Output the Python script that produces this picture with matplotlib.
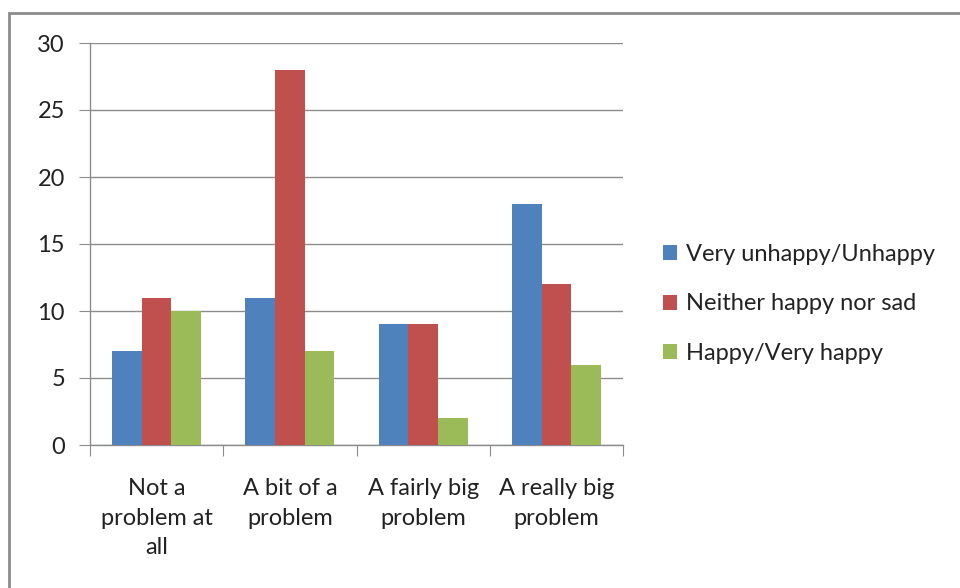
import matplotlib
matplotlib.use("Agg")
import matplotlib.pyplot as plt
import numpy as np
from matplotlib.patches import Rectangle, Patch

categories = ["Not a\nproblem at\nall", "A bit of a\nproblem", "A fairly big\nproblem", "A really big\nproblem"]
series_names = ["Very unhappy/Unhappy", "Neither happy nor sad", "Happy/Very happy"]
very_unhappy = [7, 11, 9, 18]
neither = [11, 28, 9, 12]
happy = [10, 7, 2, 6]
yticks = [0, 5, 10, 15, 20, 25, 30]
colors = ["#4F81BD", "#C0504D", "#9BBB59"]

plt.rcParams['font.family'] = ['Lato', 'DejaVu Sans']

W, H = 960, 588
fig = plt.figure(figsize=(W / 100, H / 100), dpi=100)

# outer chart border
fig.patches.append(Rectangle((9 / W, -0.1), 1.2, (H - 13) / H + 0.1, transform=fig.transFigure,
                             fill=False, edgecolor="#8C8C8C", linewidth=2))

ax = fig.add_axes([90 / W, 1 - 445 / H, (623 - 90) / W, (445 - 43) / H])

x = np.arange(len(categories))
bw = 1 / 4.5
for i, (vals, c) in enumerate(zip([very_unhappy, neither, happy], colors)):
    ax.bar(x + (i - 1) * bw, vals, width=bw, color=c, zorder=3, label=series_names[i])

ax.set_xlim(-0.5, len(categories) - 0.5)
ax.set_ylim(0, 30)
ax.set_yticks(yticks)
ax.set_yticklabels([str(v) for v in yticks], fontsize=17, color="#222222")
ax.yaxis.grid(True, color="#8C8C8C", linewidth=1, zorder=0)
ax.tick_params(axis='y', length=8, color="#8C8C8C", pad=10)

ax.set_xticks(np.arange(len(categories) + 1) - 0.5)
ax.set_xticklabels([])
ax.set_xticks(x, minor=True)
ax.set_xticklabels(categories, minor=True, fontsize=17, color="#222222", linespacing=1.5)
ax.tick_params(axis='x', which='major', length=8, color="#8C8C8C")
ax.tick_params(axis='x', which='minor', length=0, pad=24)

for s in ["top", "right"]:
    ax.spines[s].set_visible(False)
for s in ["left", "bottom"]:
    ax.spines[s].set_color("#8C8C8C")
    ax.spines[s].set_linewidth(1)

handles = [Patch(facecolor=c) for c in colors]
fig.legend(handles, series_names, loc="center left", bbox_to_anchor=(642 / W, 1 - 304 / H),
           frameon=False, fontsize=17, handlelength=0.6, handleheight=0.6,
           handletextpad=0.35, labelspacing=1.2, labelcolor="#222222")

fig.savefig("out.png", dpi=100)
